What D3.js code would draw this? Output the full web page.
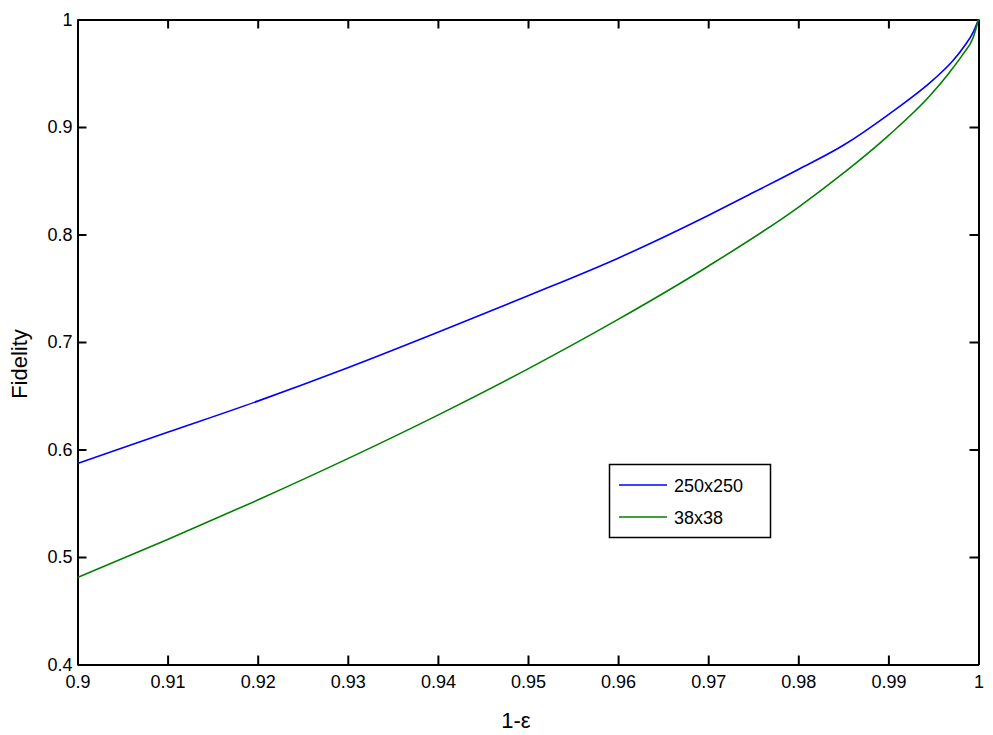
<!DOCTYPE html>
<html><head><meta charset="utf-8">
<script src="https://cdn.jsdelivr.net/npm/d3@7"></script>
<style>body{margin:0;background:#fff}svg text{font-family:Arial,"Liberation Sans",sans-serif}</style>
</head><body><svg id="c" width="993" height="735"></svg>
<script>
const blueX = [0.90,0.91,0.92,0.93,0.94,0.95,0.96,0.97,0.975,0.98,0.985,0.99,0.995,0.9972,0.9985,0.9994,1.0];
const blueValues = [0.587,0.616,0.645,0.676,0.709,0.743,0.778,0.8177,0.839,0.8605,0.883,0.9116,0.944,0.962,0.976,0.988,1.0];
const greenX = [0.90,0.91,0.92,0.93,0.94,0.95,0.96,0.97,0.98,0.985,0.99,0.9946,0.9968,0.9983,0.9994,1.0];
const greenValues = [0.481,0.5162,0.553,0.5915,0.632,0.675,0.721,0.7705,0.8253,0.857,0.892,0.929,0.951,0.968,0.983,1.0];
const seriesNames = ["250x250","38x38"];
const xTicks = [0.9,0.91,0.92,0.93,0.94,0.95,0.96,0.97,0.98,0.99,1];
const yTicks = [0.4,0.5,0.6,0.7,0.8,0.9,1];
const xLabel = "1-\u03b5", yLabel = "Fidelity";

const svg = d3.select("#c");
const L=77.5,R=978.5,T=19.5,B=664.5;
const x = d3.scaleLinear().domain([0.9,1]).range([L,R]);
const y = d3.scaleLinear().domain([0.4,1]).range([B,T]);
const fmt = d => d===1? "1" : String(+d.toFixed(2));
const tl = 9;
const ax = (g)=>{g.selectAll(".domain").attr("stroke","#000").attr("stroke-width",2);g.selectAll(".tick line").attr("stroke","#000").attr("stroke-width",2);g.selectAll("text").attr("font-size",18).attr("fill","#000");};
svg.append("g").attr("transform",`translate(0,${B})`).call(d3.axisBottom(x).tickValues(xTicks).tickFormat(fmt).tickSize(-tl).tickPadding(6).tickSizeOuter(0)).call(ax).selectAll("text").attr("dy","0.95em");
svg.append("g").attr("transform",`translate(0,${T})`).call(d3.axisTop(x).tickValues(xTicks).tickFormat("").tickSize(-tl).tickSizeOuter(0)).call(ax);
svg.append("g").attr("transform",`translate(${L},0)`).call(d3.axisLeft(y).tickValues(yTicks).tickFormat(fmt).tickSize(-tl).tickPadding(5).tickSizeOuter(0)).call(ax);
svg.append("g").attr("transform",`translate(${R},0)`).call(d3.axisRight(y).tickValues(yTicks).tickFormat("").tickSize(-tl).tickSizeOuter(0)).call(ax);

const colors = ["#0000ff","#008000"];
const series = [[blueX,blueValues],[greenX,greenValues]];
series.forEach(([xs,vs],k)=>{
  const line = d3.line().x((d,i)=>x(xs[i])).y(d=>y(d)).curve(d3.curveMonotoneX);
  svg.append("path").attr("d",line(vs)).attr("fill","none").attr("stroke",colors[k]).attr("stroke-width",1.6);
});

svg.append("text").attr("x",516).attr("y",728).attr("text-anchor","middle").attr("font-size",22).text(xLabel);
svg.append("text").attr("transform","translate(27,364) rotate(-90)").attr("text-anchor","middle").attr("font-size",22).text(yLabel);

const lg = svg.append("g");
lg.append("rect").attr("x",609.5).attr("y",464.5).attr("width",161).attr("height",73).attr("fill","#fff").attr("stroke","#000").attr("stroke-width",1.5);
seriesNames.forEach((n,k)=>{
  const yy = 485 + k*32;
  lg.append("line").attr("x1",619).attr("x2",667).attr("y1",yy).attr("y2",yy).attr("stroke",colors[k]).attr("stroke-width",1.6);
  lg.append("text").attr("x",674).attr("y",yy+6.5).attr("font-size",18).text(n);
});
</script></body></html>
